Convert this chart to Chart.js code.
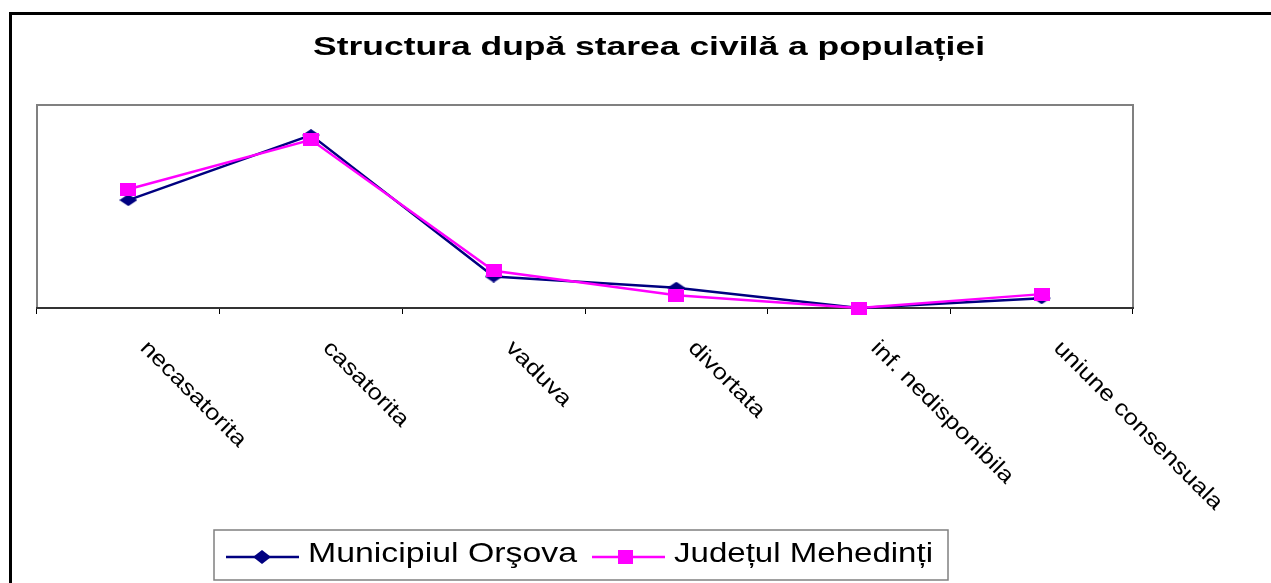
<!DOCTYPE html>
<html>
<head>
<meta charset="utf-8">
<script src="https://cdn.jsdelivr.net/npm/chart.js@4/dist/chart.umd.min.js"></script>
<style>
  html, body { margin: 0; padding: 0; background: #fff; }
  #wrap { width: 1271px; height: 583px; position: relative; }
</style>
</head>
<body>
<div id="wrap"><canvas id="chart" width="1271" height="583"></canvas></div>
<script>
const categories = [ 'necasatorita', 'casatorita', 'vaduva', 'divortata', 'inf. nedisponibila', 'uniune consensuala' ]
const orsova = [ 31.9, 51.1, 9.3, 6.0, 0, 2.9 ]
const mehedinti = [ 35.1, 49.7, 11.0, 3.8, 0, 4.1 ]
const seriesNames = [ 'Municipiul Orşova', 'Județul Mehedinți' ]
const titleText = 'Structura după starea civilă a populației'

const FONT = '"Liberation Sans", Arial, sans-serif'
const NAVY = '#000080'
const MAGENTA = '#ff00ff'

// little marker images (the original markers are a bit wider than tall)
function diamond(w, h){
    const c = document.createElement('canvas')
    c.width = w; c.height = h
    const g = c.getContext('2d')
    g.fillStyle = NAVY
    g.beginPath()
    g.moveTo(w/2, 0); g.lineTo(w, h/2); g.lineTo(w/2, h); g.lineTo(0, h/2)
    g.closePath(); g.fill()
    return c
}
function square(w, h){
    const c = document.createElement('canvas')
    c.width = w; c.height = h
    const g = c.getContext('2d')
    g.fillStyle = MAGENTA
    g.fillRect(0, 0, w, h)
    return c
}
const diamondImg = diamond(18, 12)
const squareImg = square(16, 13)

// draw text squeezed/stretched to a given width
function fitText(ctx, text, x, y, width){
    const w = ctx.measureText(text).width
    ctx.save()
    ctx.translate(x, y)
    ctx.scale(width / w, 1)
    ctx.fillText(text, 0, 0)
    ctx.restore()
}

const decor = {
    id: 'decor',
    beforeDraw(chart){
        const ctx = chart.ctx
        const a = chart.chartArea
        ctx.save()
        // outer frame (only left and top visible)
        ctx.fillStyle = '#000'
        ctx.fillRect(9, 12, 3, 583)
        ctx.fillRect(9, 12, 1271, 3)
        // plot area frame
        ctx.strokeStyle = '#808080'
        ctx.lineWidth = 2
        ctx.strokeRect(a.left, a.top, a.right - a.left, a.bottom - a.top)
        ctx.restore()
    },
    afterDraw(chart){
        const ctx = chart.ctx
        const x = chart.scales.x
        ctx.save()
        ctx.fillStyle = '#000'

        // title
        ctx.font = 'bold 25px ' + FONT
        ctx.textBaseline = 'alphabetic'
        fitText(ctx, titleText, 313, 55, 672)

        // rotated category labels
        ctx.font = '22px ' + FONT
        categories.forEach((c, i) => {
            const px = x.getPixelForValue(i)
            ctx.save()
            ctx.translate(px + 11, 349)
            ctx.rotate(Math.PI / 4)
            ctx.scale(1.17, 1)
            ctx.textAlign = 'left'
            ctx.fillText(c, 0, 0)
            ctx.restore()
        })

        // legend
        ctx.strokeStyle = '#808080'
        ctx.lineWidth = 1.5
        ctx.strokeRect(214, 530, 734, 50)
        ctx.lineWidth = 2.5
        ctx.strokeStyle = NAVY
        ctx.beginPath(); ctx.moveTo(226, 557); ctx.lineTo(299, 557); ctx.stroke()
        ctx.drawImage(diamond(18, 14), 262 - 9, 557 - 7)
        ctx.strokeStyle = MAGENTA
        ctx.beginPath(); ctx.moveTo(592, 557); ctx.lineTo(665, 557); ctx.stroke()
        ctx.drawImage(square(15, 14), 625 - 7.5, 557 - 7)
        ctx.font = '28px ' + FONT
        fitText(ctx, seriesNames[0], 308, 562, 269)
        fitText(ctx, seriesNames[1], 674, 562, 259)
        ctx.restore()
    }
}

new Chart(document.getElementById('chart'), {
    type: 'line',
    data: {
        labels: categories,
        datasets: [
            {
                label: seriesNames[0],
                data: orsova,
                borderColor: NAVY,
                backgroundColor: NAVY,
                borderWidth: 2.5,
                pointStyle: diamondImg,
                pointRadius: 6,
                tension: 0,
                clip: false,
                order: 1
            },
            {
                label: seriesNames[1],
                data: mehedinti,
                borderColor: MAGENTA,
                backgroundColor: MAGENTA,
                borderWidth: 2.5,
                pointStyle: squareImg,
                pointRadius: 6,
                tension: 0,
                clip: false,
                order: 0
            }
        ]
    },
    options: {
        responsive: false,
        animation: false,
        events: [],
        layout: { padding: { left: 37, right: 138, top: 105, bottom: 0 } },
        plugins: {
            legend: { display: false },
            title: { display: false },
            tooltip: { enabled: false }
        },
        scales: {
            x: {
                offset: true,
                grid: {
                    offset: true,
                    drawOnChartArea: false,
                    drawTicks: true,
                    tickLength: 6,
                    color: '#000',
                    lineWidth: 1
                },
                border: { display: true, color: '#333', width: 2 },
                ticks: { display: false },
                afterFit(scale){ scale.height = 275 }
            },
            y: {
                display: false,
                min: 0,
                max: 60
            }
        }
    },
    plugins: [ decor ]
})
</script>
</body>
</html>
